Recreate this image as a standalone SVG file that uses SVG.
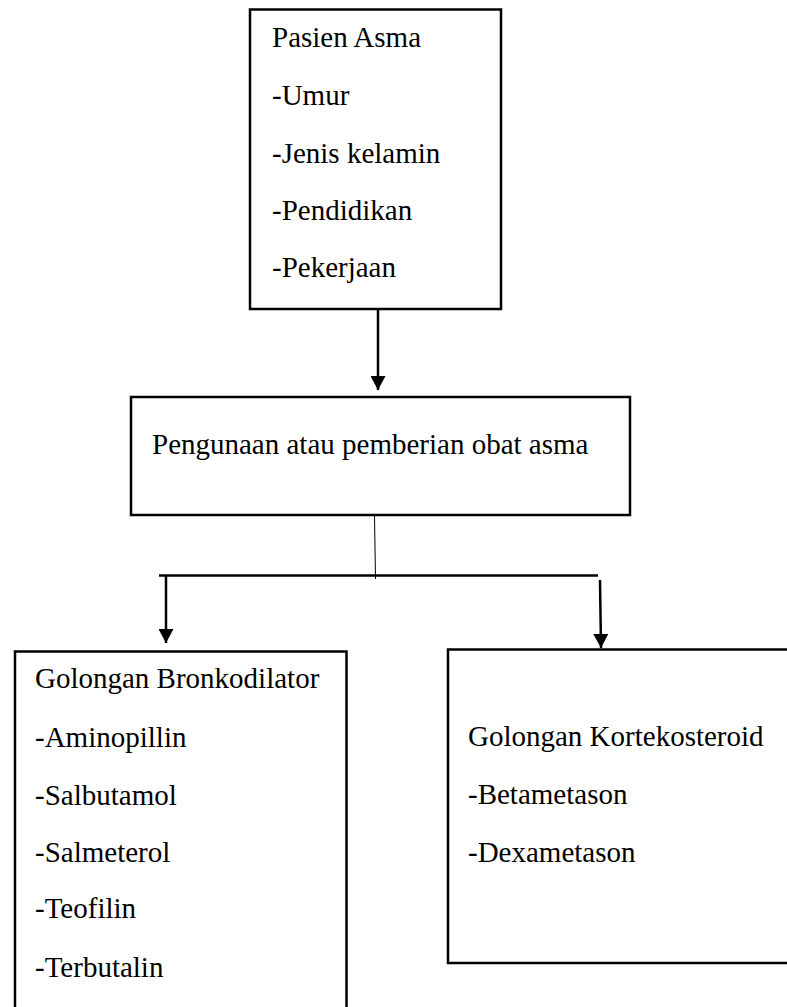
<svg xmlns="http://www.w3.org/2000/svg" width="787" height="1007" viewBox="0 0 787 1007">
<style>
.box{fill:#fff;stroke:#000;stroke-width:2.5}
.t{font-family:"Liberation Serif","Times New Roman",serif;font-size:29px;fill:#000}
.ln{stroke:#000;stroke-width:2.5;fill:none}
.thin{stroke:#000;stroke-width:1;fill:none}
</style>
<defs>
<marker id="ah" markerWidth="14" markerHeight="15" refX="14" refY="7.5" orient="auto" markerUnits="userSpaceOnUse" viewBox="0 0 14 15">
<path d="M0,0 L14,7.5 L0,15 Z" fill="#000"/>
</marker>
</defs>
<rect width="787" height="1007" fill="#fff"/>
<g id="connectors">
<line class="ln" x1="378" y1="310" x2="378" y2="390" marker-end="url(#ah)"/>
<line class="thin" x1="374.5" y1="516" x2="375.5" y2="579"/>
<line class="ln" x1="159" y1="575.5" x2="598" y2="575.5"/>
<line class="ln" x1="166" y1="575.5" x2="166" y2="643" marker-end="url(#ah)"/>
<line class="ln" x1="600" y1="580" x2="601" y2="648" marker-end="url(#ah)"/>
</g>
<g id="node-pasien">
<rect class="box" x="250" y="9.5" width="251" height="299.5"/>
<text class="t" x="272" y="47">Pasien Asma</text>
<text class="t" x="272" y="105">-Umur</text>
<text class="t" x="272" y="163">-Jenis kelamin</text>
<text class="t" x="272" y="220">-Pendidikan</text>
<text class="t" x="272" y="277">-Pekerjaan</text>
</g>
<g id="node-penggunaan">
<rect class="box" x="131" y="397" width="499" height="118"/>
<text class="t" x="152" y="454">Pengunaan atau pemberian obat asma</text>
</g>
<g id="node-bronkodilator">
<rect class="box" x="15" y="651.5" width="331.5" height="370"/>
<text class="t" x="35" y="688">Golongan Bronkodilator</text>
<text class="t" x="35" y="746.5">-Aminopillin</text>
<text class="t" x="35" y="805">-Salbutamol</text>
<text class="t" x="35" y="861.5">-Salmeterol</text>
<text class="t" x="35" y="918">-Teofilin</text>
<text class="t" x="35" y="976.5">-Terbutalin</text>
</g>
<g id="node-kortekosteroid">
<rect class="box" x="448" y="649.5" width="350" height="313.5"/>
<text class="t" x="468" y="746">Golongan Kortekosteroid</text>
<text class="t" x="468" y="804">-Betametason</text>
<text class="t" x="468" y="861.5">-Dexametason</text>
</g>
</svg>
